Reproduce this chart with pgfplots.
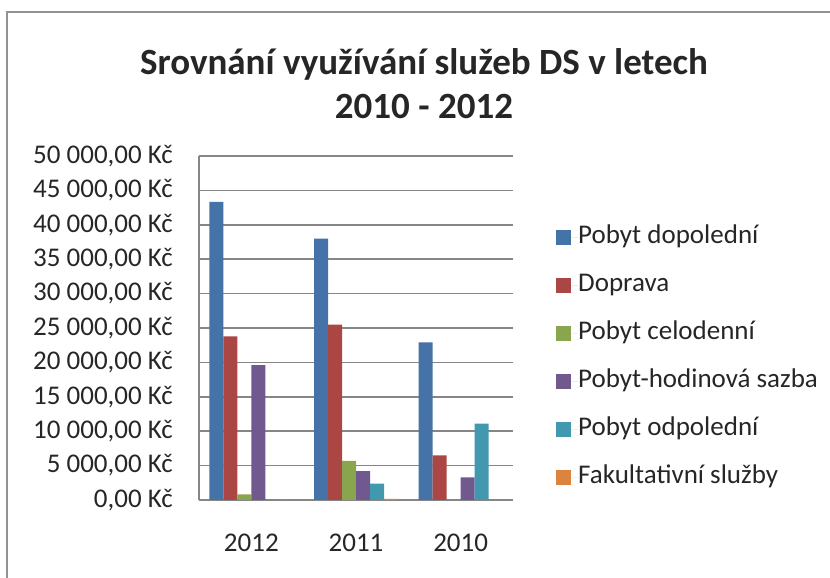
\documentclass[border=0pt]{standalone}
\usepackage{fontspec}
\setmainfont{Carlito}
\usepackage{pgfplots}
\pgfplotsset{compat=1.18}
\definecolor{c1}{HTML}{4572A7}
\definecolor{c2}{HTML}{AA4643}
\definecolor{c3}{HTML}{89A54E}
\definecolor{c4}{HTML}{71588F}
\definecolor{c5}{HTML}{4198AF}
\definecolor{c6}{HTML}{DB843D}
\definecolor{gridc}{HTML}{868686}
\definecolor{txt}{HTML}{262626}
\begin{document}
\begin{tikzpicture}[x=1pt,y=1pt]
\path[use as bounding box] (0pt,0pt) rectangle (830pt,578pt);
\draw[color=gridc!90, line width=2pt] (7pt,0pt) -- (7pt,565.5pt) -- (830pt,565.5pt);
\node[font=\fontsize{37}{44}\selectfont\bfseries, align=center, text=txt] at (424pt,494pt) {Srovnání využívání služeb DS v letech\\2010 - 2012};
\begin{axis}[
  at={(199pt,78pt)}, anchor=south west,
  scale only axis, width=314pt, height=344pt,
  xmin=-0.5, xmax=2.5, ymin=0, ymax=50000,
  scaled y ticks=false,
  ytick={0,5000,10000,15000,20000,25000,30000,35000,40000,45000,50000},
  yticklabels={{0,00 Kč},{5 000,00 Kč},{10 000,00 Kč},{15 000,00 Kč},{20 000,00 Kč},{25 000,00 Kč},{30 000,00 Kč},{35 000,00 Kč},{40 000,00 Kč},{45 000,00 Kč},{50 000,00 Kč}},
  xtick={0,1,2}, xticklabels={2012,2011,2010},
  ybar=0pt, bar width=14pt,
  ymajorgrids, grid style={color=gridc, line width=1.5pt},
  axis x line*=bottom, axis y line*=left,
  axis line style={gridc, line width=1.5pt, -},
  major tick length=0pt,
  yticklabel style={font=\fontsize{27}{30}\selectfont, text=txt, inner sep=0pt, anchor=east, xshift=-26pt},
  xticklabel style={font=\fontsize{27}{30}\selectfont, text=txt, inner sep=0pt, anchor=base, yshift=-52pt},
  legend style={at={(1.137,0.4157)}, anchor=west, draw=none, fill=none, inner sep=0pt,
    font=\fontsize{27}{30}\selectfont, text=txt, row sep=24pt,
    nodes={inner sep=0pt, text height=18pt, text depth=6pt, anchor=west}},
  legend cell align=left,
  legend image code/.code={\fill[#1] (0pt,-7.5pt) rectangle (15pt,7.5pt); \path (0pt,0pt) -- (22pt,0pt);},
]
\addplot[fill=c1, draw=none] coordinates {(0,43350) (1,38000) (2,22900)};
\addlegendentry{Pobyt dopolední}
\addplot[fill=c2, draw=none] coordinates {(0,23800) (1,25500) (2,6500)};
\addlegendentry{Doprava}
\addplot[fill=c3, draw=none] coordinates {(0,820) (1,5670) (2,0)};
\addlegendentry{Pobyt celodenní}
\addplot[fill=c4, draw=none] coordinates {(0,19600) (1,4200) (2,3300)};
\addlegendentry{Pobyt-hodinová sazba}
\addplot[fill=c5, draw=none] coordinates {(0,40) (1,2370) (2,11100)};
\addlegendentry{Pobyt odpolední}
\addplot[fill=c6, draw=none] coordinates {(0,40) (1,150) (2,0)};
\addlegendentry{Fakultativní služby}
\end{axis}
\end{tikzpicture}
\end{document}
